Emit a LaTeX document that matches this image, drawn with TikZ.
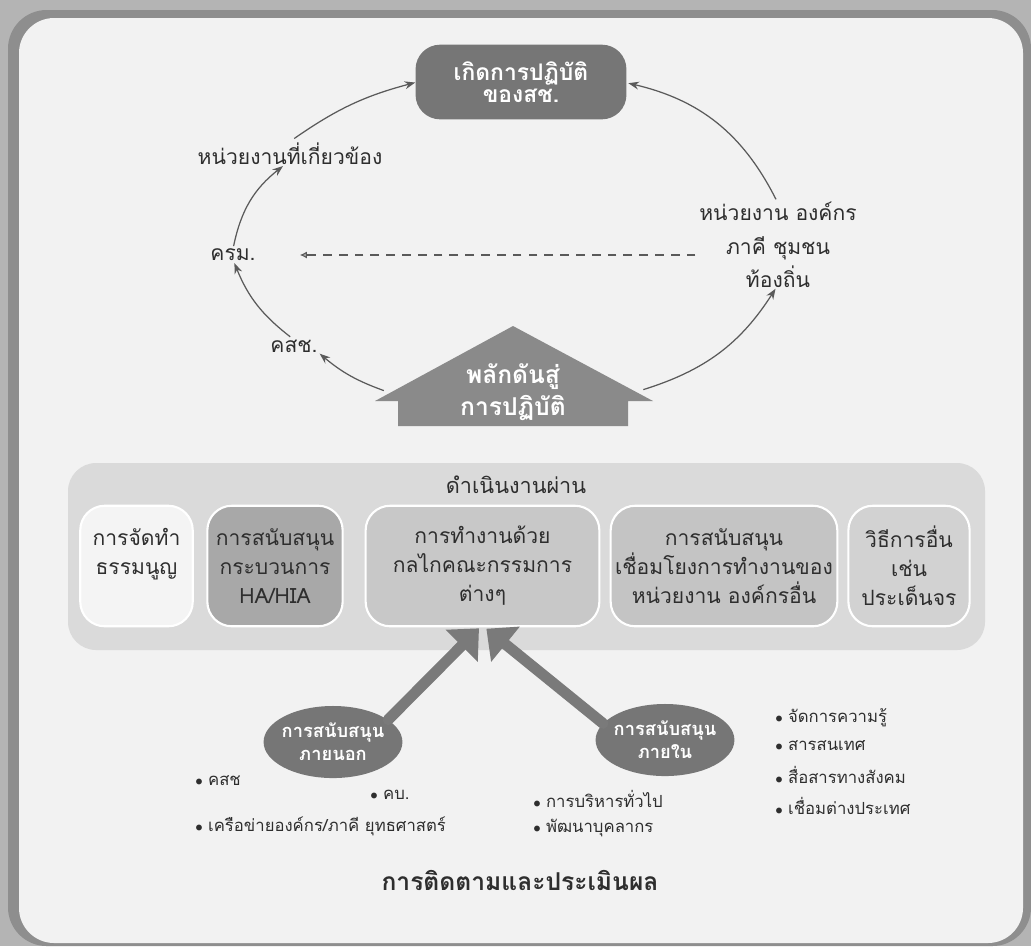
\documentclass[tikz,border=0pt]{standalone}
\usepackage{fontspec}
\setmainfont[Script=Thai]{Loma}
\usepackage{tikz}
\usetikzlibrary{arrows.meta,shapes.geometric}
\definecolor{framegray}{HTML}{B4B4B4}
\definecolor{shadegray}{HTML}{8E8E8E}
\definecolor{paper}{HTML}{F2F2F2}
\definecolor{panelgray}{HTML}{DADADA}
\definecolor{boxa}{HTML}{F4F4F4}
\definecolor{boxb}{HTML}{A8A8A8}
\definecolor{boxc}{HTML}{C8C8C8}
\definecolor{boxd}{HTML}{C4C4C4}
\definecolor{boxe}{HTML}{D2D2D2}
\definecolor{deepgray}{HTML}{767676}
\definecolor{housegray}{HTML}{8A8A8A}
\definecolor{arrowgray}{HTML}{7A7A7A}
\definecolor{ringgray}{HTML}{5A5A5A}
\definecolor{txt}{HTML}{2E2E2E}
\newcommand{\bul}{{\footnotesize$\bullet$}\hspace{3pt}}

\begin{document}
\begin{tikzpicture}[scale=0.2]
	\tikzstyle{every node}+=[inner sep=0pt, text=txt]
	\tikzstyle{ring}=[draw=ringgray, line width=0.7pt, -{Stealth[length=6pt,width=4.5pt]}]
	\tikzstyle{dashline}=[draw=ringgray, line width=0.6pt, dash pattern=on 5pt off 4pt, -{Latex[length=4pt,width=4pt,fill=ringgray!50]}]
	\tikzstyle{ringtext}=[font=\fontsize{12}{19}\selectfont, align=center]
	\tikzstyle{wbox}=[draw=white, line width=1.2pt, rounded corners=14pt, minimum height=68.6pt, align=center, font=\fontsize{12}{16.5}\selectfont]
	\tikzstyle{pill}=[ellipse, fill=deepgray, inner sep=-4pt, minimum width=79pt, minimum height=41pt, text=white, align=center, font=\bfseries\fontsize{10.4}{13}\selectfont]
	\tikzstyle{bigarrow}=[draw=arrowgray, line width=6.2pt, line cap=round, -{Triangle[width=25pt,length=14pt]}]
	\tikzstyle{bullettext}=[anchor=west, font=\fontsize{9.5}{12}\selectfont]
	\useasboundingbox (0,0) rectangle (103.1,-94.6);
	\fill [framegray] (0,0) rectangle (103.1,-94.6);
	\fill [shadegray, rounded corners=22pt] (0.8,-1.0) rectangle (103.1,-94.6);
	\fill [paper, rounded corners=20pt] (1.9,-1.8) rectangle (102.3,-94.3);
	\node (top) at (52.1,-8.2) [fill=deepgray, rounded corners=14pt, minimum width=120pt, minimum height=42.5pt, text=white, align=center, font=\bfseries\fontsize{13}{12.5}\selectfont] {เกิดการปฏิบัติ\\ของสช.};
	\node (reltop) at (29.0,-15.4) [ringtext] {หน่วยงานที่เกี่ยวข้อง};
	\node (kr) at (23.3,-25.5) [ringtext] {ครม.};
	\node (kh) at (29.4,-34.6) [ringtext] {คสช.};
	\node (orgs) at (77.8,-24.5) [ringtext] {หน่วยงาน องค์กร\\ภาคี ชุมชน\\ท้องถิ่น};
	\fill [housegray] (51.3,-32.6) -- (65.3,-40.1) -- (62.8,-40.1) -- (62.8,-42.6) -- (39.8,-42.6) -- (39.8,-40.1) -- (37.5,-40.1) -- cycle;
	\node (push) at (51.3,-39.2) [minimum width=147pt, text=white, align=center, font=\bfseries\fontsize{14}{18}\selectfont] {พลักดันสู่\\การปฏิบัติ};
	\fill [panelgray, rounded corners=16pt] (6.8,-46.3) rectangle (98.5,-65.0);
	\node (via) at (51.6,-48.5) [font=\fontsize{12.3}{15}\selectfont] {ดำเนินงานผ่าน};
	\node (b1) at (13.65,-56.6) [wbox, fill=boxa, minimum width=64pt] {การจัดทำ\\ธรรมนูญ\\\phantom{ก}};
	\node (b2) at (27.5,-56.6) [wbox, fill=boxb, minimum width=77pt] {การสนับสนุน\\กระบวนการ\\HA/HIA};
	\node (b3) at (48.25,-56.6) [wbox, fill=boxc, minimum width=133pt] {การทำงานด้วย\\กลไกคณะกรรมการ\\ต่างๆ};
	\node (b4) at (72.4,-56.6) [wbox, fill=boxd, minimum width=129pt] {การสนับสนุน\\เชื่อมโยงการทำงานของ\\หน่วยงาน องค์กรอื่น};
	\node (b5) at (90.9,-56.6) [wbox, fill=boxe, minimum width=69pt] {วิธีการอื่น\\เช่น\\ประเด็นจร};
	\node (outsup) at (33.3,-74.2) [pill] {การสนับสนุน\\ภายนอก};
	\node (insup) at (66.5,-74.0) [pill] {การสนับสนุน\\ภายใน};
	\node (l1) at (19.5,-78.1) [bullettext] {\bul คสช};
	\node (l2) at (37.0,-79.5) [bullettext] {\bul คบ.};
	\node (l3) at (19.5,-82.6) [bullettext] {\bul เครือข่ายองค์กร/ภาคี ยุทธศาสตร์};
	\node (m1) at (53.3,-79.9) [bullettext] {\bul การบริหารทั่วไป};
	\node (m2) at (53.3,-82.8) [bullettext] {\bul พัฒนาบุคลากร};
	\node (r1) at (77.5,-71.8) [bullettext] {\bul จัดการความรู้};
	\node (r2) at (77.5,-74.6) [bullettext] {\bul สารสนเทศ};
	\node (r3) at (77.5,-77.5) [bullettext] {\bul สื่อสารทางสังคม};
	\node (r4) at (77.5,-80.6) [bullettext] {\bul เชื่อมต่างประเทศ};
	\node (title) at (52.0,-88.0) [font=\bfseries\fontsize{14}{18}\selectfont] {การติดตามและประเมินผล};
	\draw [ring] ([xshift=12pt,yshift=12pt]reltop.north) to[bend left=10] ([yshift=-1.5pt]top.west);
	\draw [ring] ([xshift=1.7pt,yshift=7.4pt]kr.north) to[bend left=20] ([xshift=-20pt,yshift=-2.3pt]reltop.south);
	\draw [ring] ([xshift=-10.8pt,yshift=7.4pt]kh.north) to[bend left=15] ([xshift=4pt,yshift=-5pt]kr.south);
	\draw [ring] ([xshift=1pt,yshift=4pt]push.west) to[bend left=10] ([xshift=5pt,yshift=-3pt]kh.south east);
	\draw [ring] ([xshift=2.3pt,yshift=6.8pt]push.east) to[bend right=20] ([xshift=-7pt,yshift=-2pt]orgs.south);
	\draw [ring] ([xshift=-5.7pt,yshift=7.4pt]orgs.north) to[bend right=25] ([xshift=4.5pt,yshift=-3.4pt]top.east);
	\draw [dashline, shorten <=2pt, shorten >=25pt] (orgs.west |- kr) -- (kr.east);
	\draw [bigarrow] (outsup.22) -- ([xshift=-10pt,yshift=-2.8pt]b3.south);
	\draw [bigarrow] (insup.165) -- ([xshift=11pt,yshift=-4pt]b3.south);
\end{tikzpicture}
\end{document}
